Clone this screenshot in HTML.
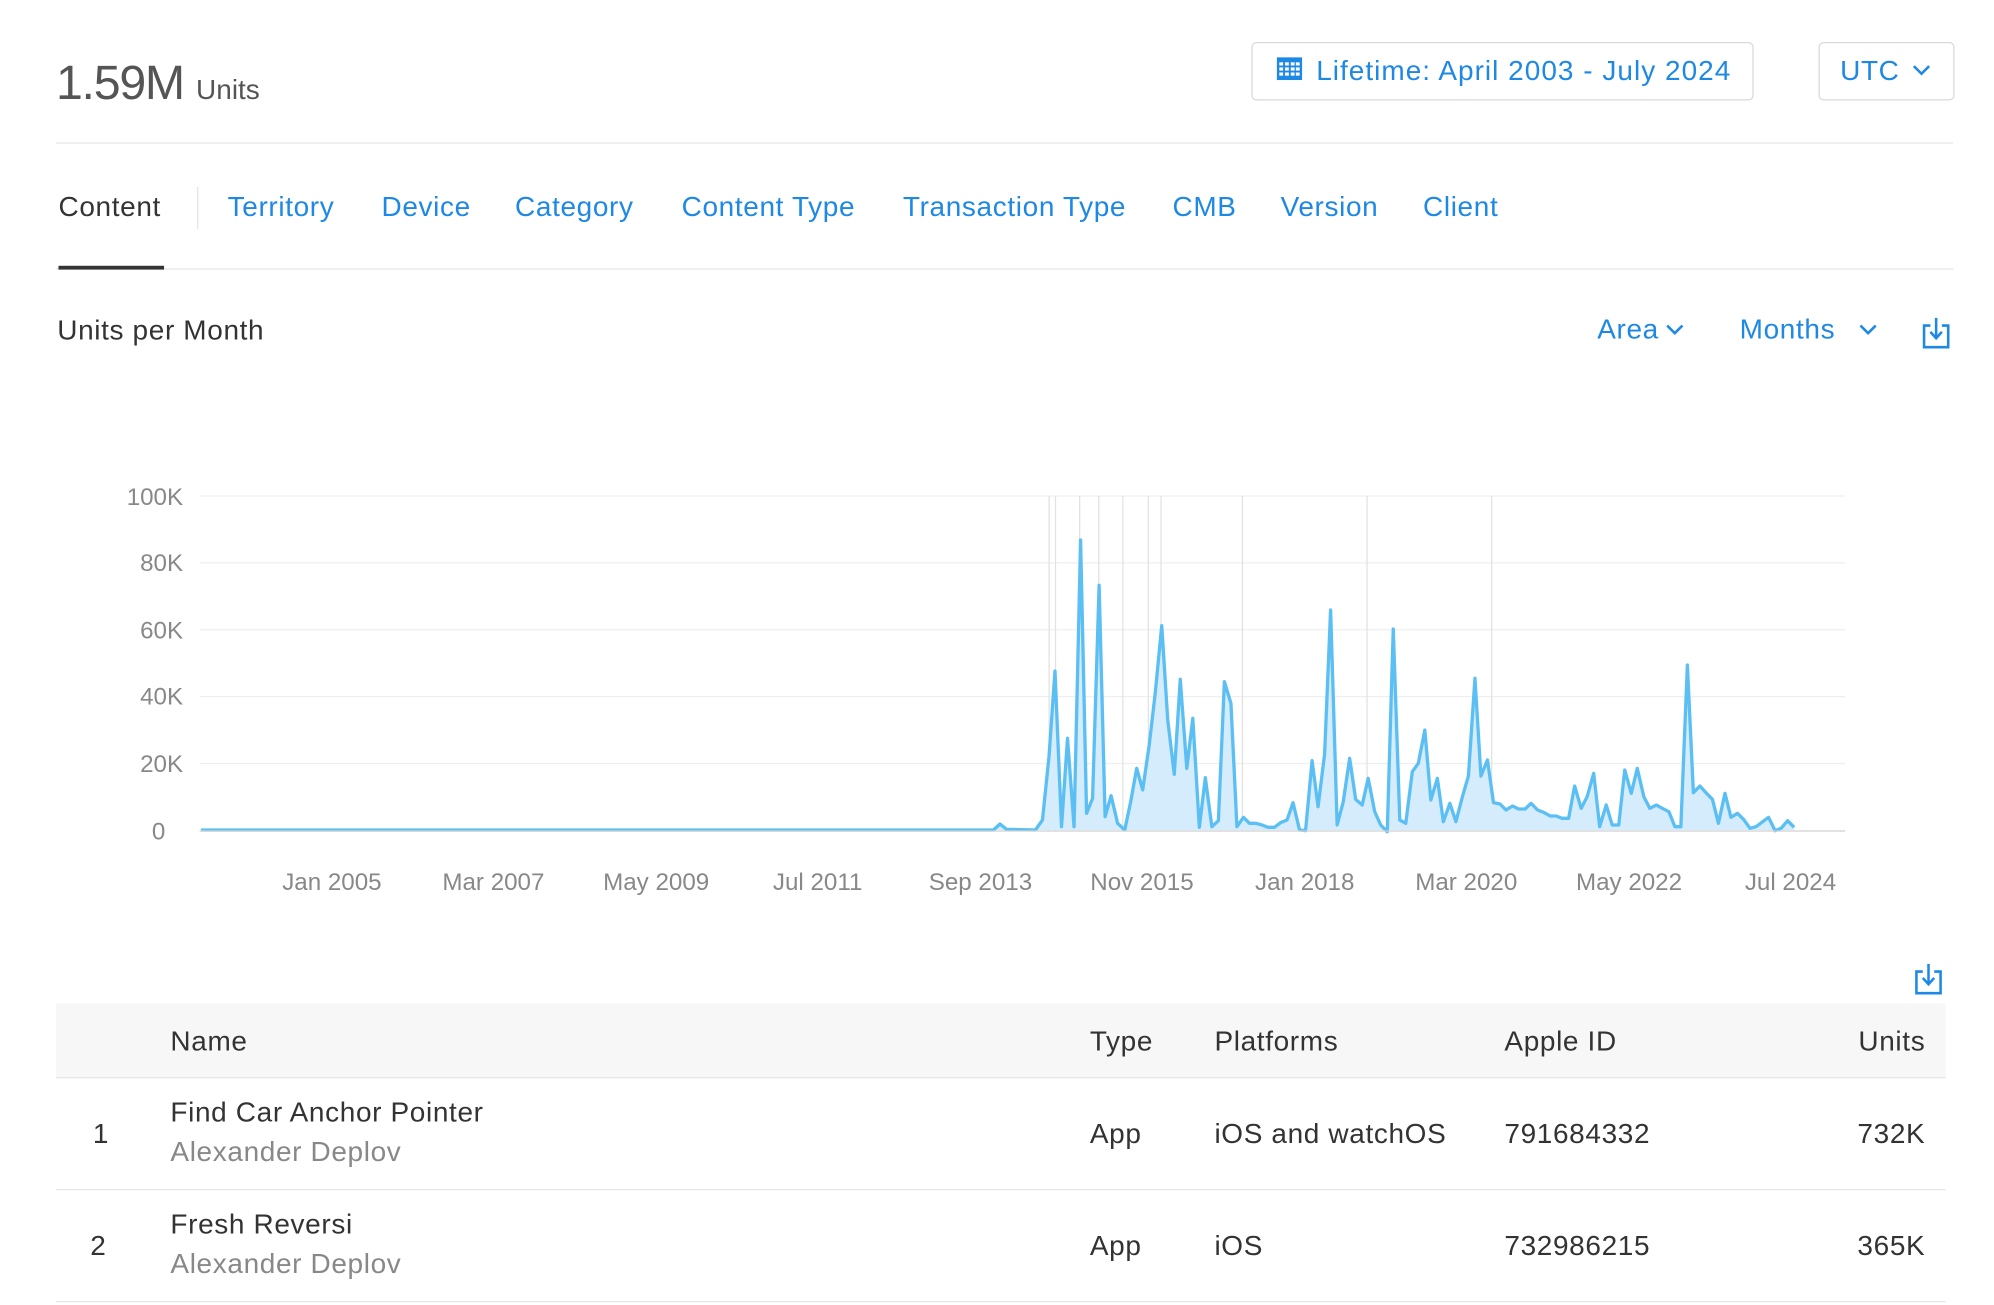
<!DOCTYPE html>
<html><head><meta charset="utf-8"><style>
html,body{margin:0;padding:0;background:#fff;}
body{width:1994px;height:1304px;overflow:hidden;position:relative;}
#w{position:absolute;left:0;top:0;width:1568px;height:1026px;transform:scale(1.27168);transform-origin:0 0;font-family:"Liberation Sans",sans-serif;color:#333;}
.a{position:absolute;white-space:nowrap;}
.b{color:#1e88e5;}
.t{font-size:22px;letter-spacing:0.5px;}
.hr{position:absolute;height:1px;background:#e6e6e6;}
.box{position:absolute;border:1px solid #d9d9d9;border-radius:4px;box-sizing:border-box;}
.g{color:#888;}
</style></head><body><div id="w">
<div class="a" style="left:44px;top:45px;font-size:38px;color:#555;letter-spacing:-1px">1.59M <span style="font-size:22px;letter-spacing:0">Units</span></div>
<div class="box" style="left:984px;top:33px;width:395px;height:46px"></div>
<svg class="a" style="left:1004px;top:45px" width="20" height="18" viewBox="0 0 20 18"><rect x="0" y="0" width="20" height="18" fill="#1e88e5"/><g fill="#fff"><rect x="2" y="4" width="3" height="2.5"/><rect x="6.5" y="4" width="3" height="2.5"/><rect x="11" y="4" width="3" height="2.5"/><rect x="15" y="4" width="3" height="2.5"/><rect x="2" y="8" width="3" height="2.5"/><rect x="6.5" y="8" width="3" height="2.5"/><rect x="11" y="8" width="3" height="2.5"/><rect x="15" y="8" width="3" height="2.5"/><rect x="2" y="12" width="3" height="2.5"/><rect x="6.5" y="12" width="3" height="2.5"/><rect x="11" y="12" width="3" height="2.5"/><rect x="15" y="12" width="3" height="2.5"/></g></svg>
<div class="a b t" style="left:1035px;top:43px;letter-spacing:0.8px">Lifetime: April 2003 - July 2024</div>
<div class="box" style="left:1430px;top:33px;width:107px;height:46px"></div>
<div class="a b t" style="left:1447px;top:43px">UTC</div>
<svg class="a" style="left:1503px;top:50px" width="16" height="10"><polyline points="2,2 8,8 14,2" fill="none" stroke="#1e88e5" stroke-width="2"/></svg>
<div class="hr" style="left:44px;top:112px;width:1492px"></div>
<div class="a t" style="left:46px;top:150px">Content</div>
<div class="a" style="left:155px;top:147px;width:1px;height:33px;background:#e3e3e3"></div>
<div class="a b t" style="left:179px;top:150px">Territory</div>
<div class="a b t" style="left:300px;top:150px">Device</div>
<div class="a b t" style="left:405px;top:150px">Category</div>
<div class="a b t" style="left:536px;top:150px">Content Type</div>
<div class="a b t" style="left:710px;top:150px">Transaction Type</div>
<div class="a b t" style="left:922px;top:150px">CMB</div>
<div class="a b t" style="left:1007px;top:150px">Version</div>
<div class="a b t" style="left:1119px;top:150px">Client</div>
<div class="hr" style="left:44px;top:211px;width:1492px"></div>
<div class="a" style="left:46px;top:209px;width:83px;height:3px;background:#333"></div>
<div class="a t" style="left:45px;top:247px">Units per Month</div>
<div class="a b t" style="left:1256px;top:246px">Area</div>
<svg class="a" style="left:1309px;top:254px" width="16" height="10"><polyline points="2,2 8,8 14,2" fill="none" stroke="#1e88e5" stroke-width="2"/></svg>
<div class="a b t" style="left:1368px;top:246px">Months</div>
<svg class="a" style="left:1461px;top:254px" width="16" height="10"><polyline points="2,2 8,8 14,2" fill="none" stroke="#1e88e5" stroke-width="2"/></svg>
<svg class="a" style="left:1510px;top:248px" width="26" height="28"><path d="M8 8 H3 V25 H22 V8 H17" fill="none" stroke="#1e88e5" stroke-width="2"/><line x1="12.5" y1="2" x2="12.5" y2="18" stroke="#1e88e5" stroke-width="2"/><polyline points="8,13 12.5,18 17,13" fill="none" stroke="#1e88e5" stroke-width="2"/></svg>

<svg class="a" style="left:0;top:0" width="1568" height="1026" viewBox="0 0 1568 1026" font-family="Liberation Sans, sans-serif">
<g stroke="#efefef" stroke-width="1">
<line x1="157" y1="390" x2="1451" y2="390"/><line x1="157" y1="442.6" x2="1451" y2="442.6"/><line x1="157" y1="495.2" x2="1451" y2="495.2"/><line x1="157" y1="547.8" x2="1451" y2="547.8"/><line x1="157" y1="600.4" x2="1451" y2="600.4"/>
</g>
<g stroke="#e2e2e2" stroke-width="1">
<line x1="825" y1="390" x2="825" y2="653"/><line x1="830" y1="390" x2="830" y2="653"/><line x1="849" y1="390" x2="849" y2="653"/><line x1="864" y1="390" x2="864" y2="653"/><line x1="883" y1="390" x2="883" y2="653"/><line x1="903" y1="390" x2="903" y2="653"/><line x1="913" y1="390" x2="913" y2="653"/><line x1="977" y1="390" x2="977" y2="653"/><line x1="1075" y1="390" x2="1075" y2="653"/><line x1="1173" y1="390" x2="1173" y2="653"/>
</g>
<g fill="#888" font-size="19" text-anchor="end">
<text x="144" y="397">100K</text><text x="144" y="449">80K</text><text x="144" y="502">60K</text><text x="144" y="554">40K</text><text x="144" y="607">20K</text><text x="130" y="660">0</text>
</g>
<g fill="#888" font-size="19" text-anchor="middle">
<text x="261" y="700">Jan 2005</text><text x="388" y="700">Mar 2007</text><text x="516" y="700">May 2009</text><text x="643" y="700">Jul 2011</text><text x="771" y="700">Sep 2013</text><text x="898" y="700">Nov 2015</text><text x="1026" y="700">Jan 2018</text><text x="1153" y="700">Mar 2020</text><text x="1281" y="700">May 2022</text><text x="1408" y="700">Jul 2024</text>
</g>
<g transform="matrix(0.42833 0 0 0.26212 786.34 377.45)">
<polygon fill="#d4ecfb" stroke="none" points="-1467,1050 -12,1050 0,1032 12,1048 65,1050 78,1020 90,830 101,573 113,1040 124,775 136,1040 148,180 159,1000 170,955 182,316 193,1010 204,947 216,1030 229,1050 240,965 251,865 262,930 274,795 285,640 297,437 308,720 320,883 331,598 343,865 354,715 366,1042 377,893 389,1040 401,1022 412,605 424,670 435,1040 447,1012 458,1030 470,1030 481,1035 492,1042 504,1042 515,1028 527,1020 538,968 550,1050 561,1052 573,842 584,980 596,822 607,390 619,1035 630,967 642,835 653,958 665,975 676,895 688,995 699,1035 711,1055 722,447 734,1020 745,1030 757,875 768,850 780,750 791,960 803,895 814,1025 826,970 837,1025 849,950 860,888 872,595 883,888 895,840 906,968 918,972 929,990 941,978 952,987 964,987 975,970 987,990 998,997 1010,1008 1021,1008 1032,1015 1044,1015 1055,918 1067,985 1078,950 1090,880 1101,1040 1113,975 1124,1035 1136,1035 1147,870 1159,940 1170,865 1182,950 1193,985 1205,975 1216,985 1228,995 1239,1040 1250,1040 1262,555 1273,938 1285,918 1296,938 1308,958 1319,1030 1331,940 1342,1012 1354,1000 1365,1018 1377,1045 1388,1040 1411,1012 1423,1052 1434,1045 1446,1022 1458,1042 1458,1050"/>
<polyline fill="none" stroke="#5bbff4" stroke-width="2.6" vector-effect="non-scaling-stroke" stroke-linejoin="round" points="-1467,1050 -12,1050 0,1032 12,1048 65,1050 78,1020 90,830 101,573 113,1040 124,775 136,1040 148,180 159,1000 170,955 182,316 193,1010 204,947 216,1030 229,1050 240,965 251,865 262,930 274,795 285,640 297,437 308,720 320,883 331,598 343,865 354,715 366,1042 377,893 389,1040 401,1022 412,605 424,670 435,1040 447,1012 458,1030 470,1030 481,1035 492,1042 504,1042 515,1028 527,1020 538,968 550,1050 561,1052 573,842 584,980 596,822 607,390 619,1035 630,967 642,835 653,958 665,975 676,895 688,995 699,1035 711,1055 722,447 734,1020 745,1030 757,875 768,850 780,750 791,960 803,895 814,1025 826,970 837,1025 849,950 860,888 872,595 883,888 895,840 906,968 918,972 929,990 941,978 952,987 964,987 975,970 987,990 998,997 1010,1008 1021,1008 1032,1015 1044,1015 1055,918 1067,985 1078,950 1090,880 1101,1040 1113,975 1124,1035 1136,1035 1147,870 1159,940 1170,865 1182,950 1193,985 1205,975 1216,985 1228,995 1239,1040 1250,1040 1262,555 1273,938 1285,918 1296,938 1308,958 1319,1030 1331,940 1342,1012 1354,1000 1365,1018 1377,1045 1388,1040 1411,1012 1423,1052 1434,1045 1446,1022 1458,1042"/>
</g>
<line x1="157" y1="653.5" x2="1451" y2="653.5" stroke="#d0d0d0" stroke-width="1"/>
</svg>

<svg class="a" style="left:1504px;top:756px" width="26" height="28"><path d="M8 8 H3 V25 H22 V8 H17" fill="none" stroke="#1e88e5" stroke-width="2"/><line x1="12.5" y1="2" x2="12.5" y2="18" stroke="#1e88e5" stroke-width="2"/><polyline points="8,13 12.5,18 17,13" fill="none" stroke="#1e88e5" stroke-width="2"/></svg>
<div class="a" style="left:44px;top:789px;width:1486px;height:58px;background:#f7f7f7"></div>
<div class="a t" style="left:134px;top:806px">Name</div>
<div class="a t" style="left:857px;top:806px">Type</div>
<div class="a t" style="left:955px;top:806px">Platforms</div>
<div class="a t" style="left:1183px;top:806px">Apple ID</div>
<div class="a t" style="right:54px;top:806px">Units</div>
<div class="hr" style="left:44px;top:847px;width:1486px"></div>
<div class="a t" style="left:73px;top:879px">1</div>
<div class="a t" style="left:134px;top:862px">Find Car Anchor Pointer</div>
<div class="a t g" style="left:134px;top:893px">Alexander Deplov</div>
<div class="a t" style="left:857px;top:879px">App</div>
<div class="a t" style="left:955px;top:879px">iOS and watchOS</div>
<div class="a t" style="left:1183px;top:879px">791684332</div>
<div class="a t" style="right:54px;top:879px">732K</div>
<div class="hr" style="left:44px;top:935px;width:1486px"></div>
<div class="a t" style="left:71px;top:967px">2</div>
<div class="a t" style="left:134px;top:950px">Fresh Reversi</div>
<div class="a t g" style="left:134px;top:981px">Alexander Deplov</div>
<div class="a t" style="left:857px;top:967px">App</div>
<div class="a t" style="left:955px;top:967px">iOS</div>
<div class="a t" style="left:1183px;top:967px">732986215</div>
<div class="a t" style="right:54px;top:967px">365K</div>
<div class="hr" style="left:44px;top:1023px;width:1486px"></div>
</div></body></html>
